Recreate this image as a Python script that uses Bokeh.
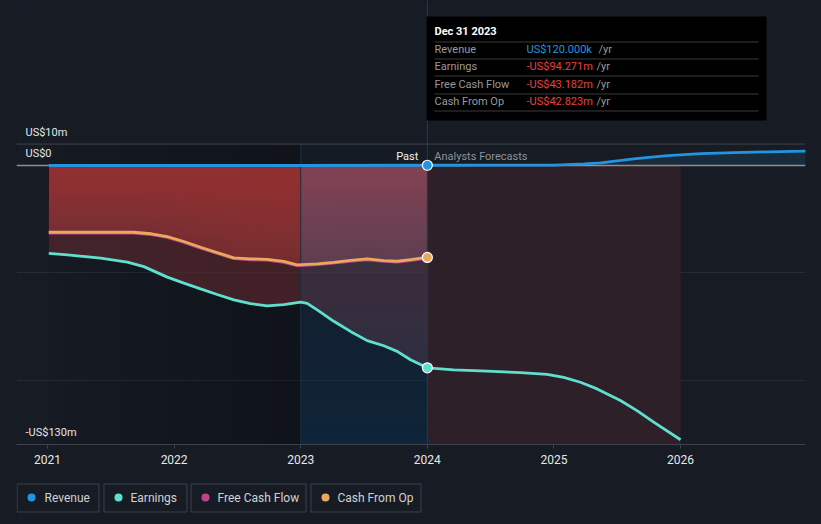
import numpy as np
from bokeh.plotting import figure
from bokeh.layouts import column
from bokeh.models import Range1d, FixedTicker, Label
from bokeh.embed import file_html
from bokeh.resources import INLINE

# ---------------- data (US$ millions, decimal years) ----------------
earn_years = [2021.01, 2021.156, 2021.419, 2021.63, 2021.761, 2021.946, 2022.077,
              2022.209, 2022.34, 2022.472, 2022.603, 2022.735, 2022.866, 2023.0,
              2023.051, 2023.13, 2023.261, 2023.393, 2023.525, 2023.656, 2023.762,
              2023.867, 2024.0]
earnings = [-40.9, -41.6, -43.2, -45.0, -47.1, -52.0, -54.8,
            -57.5, -60.1, -62.6, -64.4, -65.4, -64.8, -63.7,
            -64.2, -67.3, -72.6, -77.3, -81.6, -84.0, -86.6,
            -90.5, -94.271]

earn_fc_years = [2024.0, 2024.209, 2024.472, 2024.736, 2024.946, 2025.077, 2025.209,
                 2025.341, 2025.525, 2025.656, 2025.788, 2026.0]
earnings_fc = [-94.271, -95.2, -95.8, -96.5, -97.3, -98.7, -101.0,
               -104.1, -109.5, -114.2, -119.6, -127.8]

cash_years = [2021.01, 2021.29, 2021.68, 2021.82, 2021.946, 2022.077, 2022.209,
              2022.34, 2022.472, 2022.603, 2022.735, 2022.866, 2022.971, 2023.13,
              2023.261, 2023.393, 2023.525, 2023.656, 2023.762, 2023.867, 2024.0]
cfo = [-31.1, -31.1, -31.1, -31.8, -33.1, -35.4, -38.1,
       -40.6, -43.0, -43.5, -43.7, -44.7, -46.3, -45.8,
       -45.1, -44.2, -43.5, -44.3, -44.6, -43.9, -42.823]
fcf = [-31.5, -31.5, -31.5, -32.2, -33.5, -35.8, -38.5,
       -41.0, -43.4, -43.9, -44.1, -45.1, -46.7, -46.2,
       -45.5, -44.6, -43.9, -44.7, -45.0, -44.3, -43.182]

rev_years = [2021.01, 2022.0, 2023.0, 2024.0]
revenue = [0.0, 0.0, 0.0, 0.12]
rev_fc_years = [2024.0, 2024.6, 2025.0, 2025.24, 2025.37, 2025.5, 2025.63, 2025.77,
                2025.9, 2026.03, 2026.16, 2026.42, 2026.69, 2026.99]
revenue_fc = [0.12, 0.14, 0.2, 0.8, 1.2, 2.2, 3.1, 3.9,
              4.6, 5.1, 5.5, 6.0, 6.4, 6.7]

year_ticks = [2021, 2022, 2023, 2024, 2025, 2026]
y_label_values = [10, 0, -130]
y_labels = ["US$10m", "US$0", "-US$130m"]
grid_values = [-50, -100]

tooltip_date = "Dec 31 2023"
tt_names = ["Revenue", "Earnings", "Free Cash Flow", "Cash From Op"]
tt_values = ["US$120.000k", "-US$94.271m", "-US$43.182m", "-US$42.823m"]

legend_names = ["Revenue", "Earnings", "Free Cash Flow", "Cash From Op"]

# ---------------- style ----------------
BG = "#161b24"
C_REV = "#2394df"
C_EARN = "#5fe0cf"
C_FCF = "#c3418a"
C_CFO = "#e8a95c"
FONT = "Roboto"
LW = 2.8

past_start = earn_years[0]
now = earn_years[-1]
hl_start = 2023.0
fc_end = earn_fc_years[-1]
Y_MIN, Y_MAX = -130, 76.9
X_MIN, X_MAX = 2020.755, 2026.987
FW, FH = 789, 444  # frame size in px

p = figure(width=821, height=480, output_backend="svg", toolbar_location=None,
           x_range=Range1d(X_MIN, X_MAX), y_range=Range1d(Y_MIN, Y_MAX),
           y_axis_location=None, min_border_left=16, min_border_right=16,
           min_border_top=0, min_border_bottom=36,
           styles={"background-color": BG})
p.background_fill_color = BG
p.border_fill_color = BG
p.outline_line_color = None
p.xgrid.visible = False
p.ygrid.ticker = FixedTicker(ticks=grid_values)
p.ygrid.grid_line_color = "#272c35"
p.ygrid.grid_line_width = 1

ax = p.xaxis[0]
ax.ticker = FixedTicker(ticks=year_ticks)
ax.axis_line_color = "#3d424c"
ax.major_tick_line_color = "#3d424c"
ax.major_tick_out = 4
ax.major_tick_in = 0
ax.minor_tick_line_color = None
ax.major_label_text_color = "#e8e8e8"
ax.major_label_text_font = "Roboto"
ax.major_label_text_font_size = "12px"
ax.major_label_standoff = 6

# pixel -> data helpers for layout-only items (tooltip)
def dx(cx):
    return X_MIN + (cx - 16) * (X_MAX - X_MIN) / FW

def dy(cy):
    return Y_MAX - cy * (Y_MAX - Y_MIN) / FH

def sx(cx):
    return cx - 16

def sy(cy):
    return FH - cy

# past darkening strip (2021 -> 2023)
edges = np.linspace(past_start, hl_start, 25)
for i in range(24):
    p.quad(left=edges[i], right=edges[i + 1], bottom=Y_MIN, top=10,
           fill_color="#000000", fill_alpha=0.02 + 0.26 * i / 23, line_color=None)

# forecast area shading
p.quad(left=now, right=fc_end, bottom=Y_MIN, top=0, fill_color="#2e2029",
       line_color=None)

# revenue forecast fill
p.varea(x=rev_fc_years, y1=[0] * len(rev_fc_years), y2=revenue_fc,
        fill_color="#1a2b3c", fill_alpha=1.0)

# red fills in past
p.varea(x=earn_years, y1=[0] * len(earn_years), y2=earnings,
        fill_color="#622a31", fill_alpha=0.6)
cfo_arr = np.array(cfo)
p.varea(x=cash_years, y1=[0] * len(cash_years), y2=list(cfo_arr),
        fill_color="#be3c3e", fill_alpha=0.44)
NB = 16
for k in range(1, NB):
    p.varea(x=cash_years, y1=[0] * len(cash_years), y2=list(cfo_arr * k / NB),
            fill_color="#be3c3e", fill_alpha=0.044)

# highlight (hovered period)
hl_e = [i for i, x in enumerate(earn_years) if x >= hl_start - 0.01]
hl_c = [i for i, x in enumerate(cash_years) if x >= hl_start - 0.05]
ex = [hl_start] + [earn_years[i] for i in hl_e[1:]]
p.varea(x=ex, y1=[0] * len(ex), y2=[earnings[i] for i in hl_e],
        fill_color="#6e6e96", fill_alpha=0.14)
cx_ = [hl_start] + [cash_years[i] for i in hl_c[1:]]
p.varea(x=cx_, y1=[0] * len(cx_), y2=[cfo[i] for i in hl_c],
        fill_color="#7a6e96", fill_alpha=0.24)
bands = np.linspace(10, Y_MIN, 29)
for i in range(28):
    t = (i + 0.5) / 28
    p.quad(left=hl_start, right=now, top=bands[i], bottom=bands[i + 1],
           fill_color="#0a2d4b", fill_alpha=0.55 * t, line_color=None)

# vertical lines
p.segment(x0=[hl_start], y0=[Y_MIN], x1=[hl_start], y1=[10], line_color="#1f2d3c", line_width=1)
p.segment(x0=[now], y0=[Y_MIN], x1=[now], y1=[Y_MAX], line_color="#1f3b57", line_width=1)

# zero line and top line
p.segment(x0=[X_MIN], y0=[10], x1=[X_MAX], y1=[10], line_color="#41444c", line_width=1)
p.segment(x0=[X_MIN], y0=[0], x1=[X_MAX], y1=[0], line_color="#8e8e8e", line_width=1.5)

# series lines
p.line(rev_years, revenue, line_color=C_REV, line_width=LW)
p.line(rev_fc_years, revenue_fc, line_color=C_REV, line_width=LW)
p.line(earn_years, earnings, line_color=C_EARN, line_width=LW)
p.line(earn_fc_years, earnings_fc, line_color=C_EARN, line_width=LW)
p.line(cash_years, fcf, line_color=C_FCF, line_width=LW)
p.line(cash_years, cfo, line_color=C_CFO, line_width=LW)

# hover dots
p.scatter([now], [revenue[-1]], size=10, fill_color=C_REV, line_color="white", line_width=1.2)
p.scatter([now], [cfo[-1]], size=10, fill_color=C_CFO, line_color="white", line_width=1.2)
p.scatter([now], [earnings[-1]], size=10, fill_color=C_EARN, line_color="white", line_width=1.2)

# y labels
for v, t in zip(y_label_values, y_labels):
    p.add_layout(Label(x=sx(25), x_units="screen", y=v, y_units="data", y_offset=12,
                       text=t, text_font=FONT, text_font_size="11px",
                       text_color="#e6e6e6", text_baseline="middle", text_align="left"))

# Past / Analysts Forecasts
p.add_layout(Label(x=now, y=0, x_offset=-9, y_offset=9, text="Past", text_font=FONT,
                   text_font_size="11px", text_color="#f0f0f0", text_align="right",
                   text_baseline="middle"))
p.add_layout(Label(x=now, y=0, x_offset=7, y_offset=9, text="Analysts Forecasts",
                   text_font=FONT, text_font_size="11px", text_color="#8d929b",
                   text_align="left", text_baseline="middle"))

# tooltip (drawn as glyphs, placed in pixels)
p.quad(left=dx(426), right=dx(766), top=dy(16), bottom=dy(120),
       fill_color="#000000", line_color=None)
sep_y = [41, 58, 75, 93, 110]
p.segment(x0=[dx(434)] * 5, x1=[dx(758)] * 5, y0=[dy(v + 0.5) for v in sep_y],
          y1=[dy(v + 0.5) for v in sep_y], line_color="#3a3a3a", line_width=1)
p.add_layout(Label(x=sx(434), y=sy(31), x_units="screen", y_units="screen", text=tooltip_date,
                   text_font=FONT, text_font_size="11px", text_font_style="bold",
                   text_color="#ffffff", text_baseline="middle"))
row_y = [49, 66, 84, 101]
val_colors = [C_REV, "#e8413f", "#e8413f", "#e8413f"]
yr_x = [598, 596, 596, 596]
for name, val, yy, col, yx in zip(tt_names, tt_values, row_y, val_colors, yr_x):
    p.add_layout(Label(x=sx(434), y=sy(yy), x_units="screen", y_units="screen", text=name,
                       text_font=FONT, text_font_size="11px", text_color="#9a9a9a",
                       text_baseline="middle"))
    p.add_layout(Label(x=sx(526), y=sy(yy), x_units="screen", y_units="screen", text=val,
                       text_font=FONT, text_font_size="11px", text_color=col,
                       text_baseline="middle"))
    p.add_layout(Label(x=sx(yx), y=sy(yy), x_units="screen", y_units="screen", text="/yr",
                       text_font=FONT, text_font_size="11px", text_color="#9a9a9a",
                       text_baseline="middle"))

# ---------------- legend strip (separate figure below; its frame is aligned to 16..805) ----------------
lg = figure(width=821, height=44, output_backend="svg", toolbar_location=None,
            x_range=Range1d(16, 805), y_range=Range1d(524, 480),
            x_axis_location=None, y_axis_location=None,
            min_border_left=16, min_border_right=16, min_border_top=0, min_border_bottom=0,
            styles={"background-color": BG})
lg.background_fill_color = BG
lg.border_fill_color = BG
lg.outline_line_color = None
lg.grid.visible = False

leg_box = [(16, 98), (103, 186), (190, 305), (310, 420)]
leg_dot = [31, 118, 205, 325]
leg_txt = [44, 130, 217, 337]
leg_cols = [C_REV, C_EARN, C_FCF, C_CFO]
lg.quad(left=[b[0] + 0.5 for b in leg_box], right=[b[1] + 0.5 for b in leg_box],
        top=[483.5] * 4, bottom=[511.5] * 4, fill_alpha=0.0,
        line_color="#3b404a", line_width=1)
lg.scatter(x=leg_dot, y=[497] * 4, size=8, fill_color=leg_cols, line_color=None)
for tx, name in zip(leg_txt, legend_names):
    lg.add_layout(Label(x=tx, y=497, text=name, text_font=FONT, text_font_size="12px",
                        text_color="#d2d2d2", text_baseline="middle"))

layout = column(p, lg, spacing=0, styles={"background-color": BG})
open("out.html", "w").write(file_html(layout, INLINE))
